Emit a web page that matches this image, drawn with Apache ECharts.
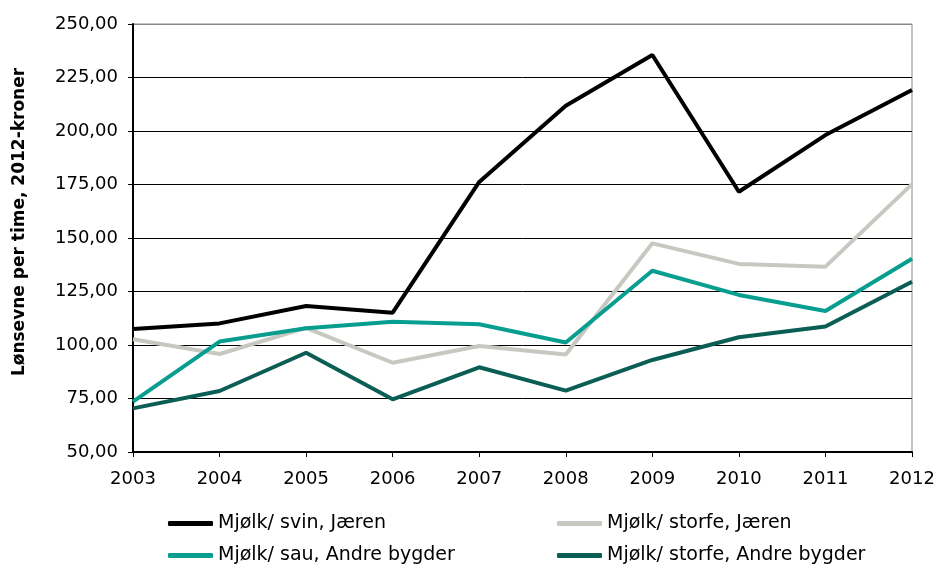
<!DOCTYPE html>
<html lang="no">
<head>
  <meta charset="UTF-8">
  <title>Lønsevne per time</title>
  <script src="https://cdn.jsdelivr.net/npm/echarts@6/dist/echarts.min.js"></script>
  <style>
    html, body { margin: 0; padding: 0; background: #fff; }
    #main { width: 939px; height: 566px; }
  </style>
</head>
<body>
  <div id="main"></div>
  <script type="text/javascript">
    var years = ['2003', '2004', '2005', '2006', '2007', '2008', '2009', '2010', '2011', '2012'];
    var svinJaeren = [107.5, 110.1, 118.2, 115.1, 176.2, 211.8, 235.5, 171.6, 198.1, 219.2];
    var storfeJaeren = [102.7, 95.8, 108.0, 91.7, 99.5, 95.6, 147.5, 137.9, 136.6, 175.2];
    var sauAndre = [73.5, 101.6, 107.8, 110.9, 109.7, 101.2, 134.7, 123.4, 115.9, 140.3];
    var storfeAndre = [70.4, 78.5, 96.4, 74.6, 89.6, 78.7, 93.0, 103.6, 108.6, 129.6];

    var names = ['Mjølk/ svin, Jæren', 'Mjølk/ storfe, Jæren', 'Mjølk/ sau, Andre bygder', 'Mjølk/ storfe, Andre bygder'];
    var colors = ['#000000', '#c8c8c2', '#079e90', '#0b5e54'];
    var values = [svinJaeren, storfeJaeren, sauAndre, storfeAndre];

    var font = 'DejaVu Sans, sans-serif';
    var legendPos = [[163, 509], [552, 509], [163, 541], [552, 541]];

    var chart = echarts.init(document.getElementById('main'));

    var legends = names.map(function (n, i) {
      return {
        data: [n],
        left: legendPos[i][0],
        top: legendPos[i][1],
        itemWidth: 45,
        itemHeight: 5,
        itemGap: 0,
        icon: 'roundRect',
        textStyle: { fontFamily: font, fontSize: 19, color: '#000', padding: [0, 0, 0, 0] }
      };
    });

    var series = names.map(function (n, i) {
      return {
        name: n,
        type: 'line',
        data: values[i],
        symbol: 'none',
        lineStyle: { color: colors[i], width: 4 },
        itemStyle: { color: colors[i] },
        z: 2 + i
      };
    });

    var option = {
      animation: false,
      legend: legends,
      grid: {
        left: 133, right: 27, top: 24, bottom: 114,
        outerBoundsMode: 'none',
        show: true, borderColor: '#888', borderWidth: 1
      },
      xAxis: {
        type: 'category',
        data: years,
        boundaryGap: false,
        axisLine: { lineStyle: { color: '#000', width: 2 } },
        axisTick: { show: true, length: 5, lineStyle: { color: '#000', width: 1 } },
        axisLabel: { fontFamily: font, fontSize: 18, color: '#000', margin: 18 },
        splitLine: { show: false }
      },
      yAxis: {
        type: 'value',
        min: 50, max: 250, interval: 25,
        name: 'Lønsevne per time, 2012-kroner',
        nameLocation: 'middle',
        nameGap: 105,
        nameTextStyle: {
          fontFamily: font, fontSize: 17, fontWeight: 'bold', color: '#000',
          padding: [0, 0, 0, 32]
        },
        axisLine: { show: true, lineStyle: { color: '#000', width: 2 } },
        axisTick: { show: true, length: 5, lineStyle: { color: '#000' } },
        axisLabel: {
          fontFamily: font, fontSize: 18, color: '#000', margin: 15,
          formatter: function (v) { return v.toFixed(2).replace('.', ','); }
        },
        splitLine: {
          lineStyle: {
            color: ['#000', '#000', '#000', '#000', '#000', '#000', '#000', '#000', '#888'],
            width: 1
          }
        }
      },
      series: series
    };

    chart.setOption(option);
  </script>
</body>
</html>
